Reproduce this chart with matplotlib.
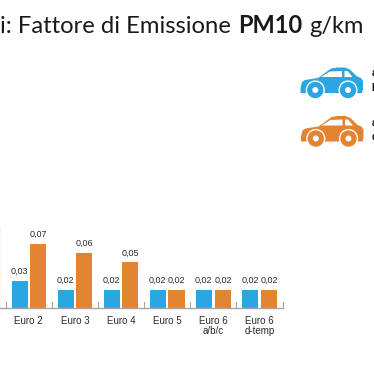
import matplotlib
matplotlib.use("Agg")
import matplotlib.pyplot as plt
from matplotlib.patches import Polygon, Circle

W, H = 374, 373
BLUE = "#2CA6E0"
ORANGE = "#E38432"
PALE = "#FDF3EA"
categories = ["Euro 1", "Euro 2", "Euro 3", "Euro 4", "Euro 5", "Euro 6\na/b/c", "Euro 6\nd-temp"]
benzina = [0.03, 0.03, 0.02, 0.02, 0.02, 0.02, 0.02]
diesel = [0.09, 0.07, 0.06, 0.05, 0.02, 0.02, 0.02]
labels_b = ["0,03", "0,03", "0,02", "0,02", "0,02", "0,02", "0,02"]
labels_d = ["0,09", "0,07", "0,06", "0,05", "0,02", "0,02", "0,02"]
legend_lines = [("auto", "benzina"), ("auto", "diesel")]

plt.rcParams['font.family'] = ['Liberation Sans', 'DejaVu Sans']
fig = plt.figure(figsize=(W/100, H/100), dpi=100)
ax = fig.add_axes([0, 0, 1, 1])
spacing = 46.15
x0 = 28.8 - spacing
ax.set_xlim(-x0/spacing, (W-x0)/spacing)
base_px = 308
ppu = 912
ax.set_ylim(-(H-base_px)/ppu, base_px/ppu)
ax.axis('off')

bw = 16.2/spacing
off = 9.2/spacing
TXT = '#2a2a2a'
for i, c in enumerate(categories):
    ax.bar(i-off, benzina[i], bw, color=BLUE, lw=0)
    ax.bar(i+off, diesel[i], bw, color=ORANGE, lw=0)
    ax.text(i-off-0.01, benzina[i]+0.0105, labels_b[i], ha='center', va='center', fontsize=6.5, color=TXT)
    ax.text(i+off+0.008, diesel[i]+0.0105, labels_d[i], ha='center', va='center', fontsize=6.5, color=TXT)
    ax.text(i, -0.0092, c, ha='center', va='top', fontsize=7.0, color=TXT, linespacing=1.0)
# pale fringe of the cut-off Euro 1 bar at the left edge
ax.bar(0.385, diesel[0], 1.6/spacing, color=PALE, lw=0)
ax.plot([-0.65, 6.5], [0, 0], color='#A6A6A6', lw=1)
for t in range(0, 7 + 1):
    ax.plot([t-0.5, t-0.5], [0, 0.0062], color='#A6A6A6', lw=0.8)

TF = ['Lato', 'DejaVu Sans']
ty = 1-33/H
fig.text(231/W, ty, "i: Fattore di Emissione", fontsize=17.2, va='baseline', ha='right', color='#1a1a1a', family=TF)
fig.text(238.5/W, ty, "PM10", fontsize=17.0, va='baseline', ha='left', color='#1a1a1a', fontweight='bold', family=TF)
fig.text(309.5/W, ty, "g/km", fontsize=17.0, va='baseline', ha='left', color='#1a1a1a', family=TF)

ov = fig.add_axes([0, 0, 1, 1], facecolor='none')
ov.set_xlim(0, W); ov.set_ylim(H, 0); ov.axis('off')

def car(dx, dy, col):
    pts = [(300.5,93),(300.5,88),(302,82),(305,80),(318,78),(325,73),(331,68.5),(337,67.5),(345,67.5),
           (350,69.5),(357,76.5),(361,78),(363,81),(363,89),(362,93)]
    ov.add_patch(Polygon([(x+dx,y+dy) for x,y in pts], closed=True, color=col, lw=0))
    ov.add_patch(Polygon([(x+dx,y+dy) for x,y in [(321,77),(330,71.5),(342,71),(342,77)]], closed=True, color='white', lw=0))
    ov.add_patch(Polygon([(x+dx,y+dy) for x,y in [(344.5,71),(347.5,71),(352.5,77),(344.5,77)]], closed=True, color='white', lw=0))
    for cx in (315.3, 348):
        ov.add_patch(Circle((cx+dx, 90+dy), 9.6, color='white', lw=0))
        ov.add_patch(Circle((cx+dx, 90+dy), 8.2, color=col, lw=0))
        ov.add_patch(Circle((cx+dx, 90+dy), 3.0, color='white', lw=0))

car(0, 0, BLUE)
car(0.5, 48.5, ORANGE)
for (l1, l2), y in zip(legend_lines, (73.5, 122.5)):
    ov.text(371.5, y, l1, fontsize=7.0, va='center', ha='left', color='#111111', fontweight='bold')
    ov.text(371.5, y+14.5, l2, fontsize=7.0, va='center', ha='left', color='#111111', fontweight='bold')
fig.savefig("out.png", dpi=100)
